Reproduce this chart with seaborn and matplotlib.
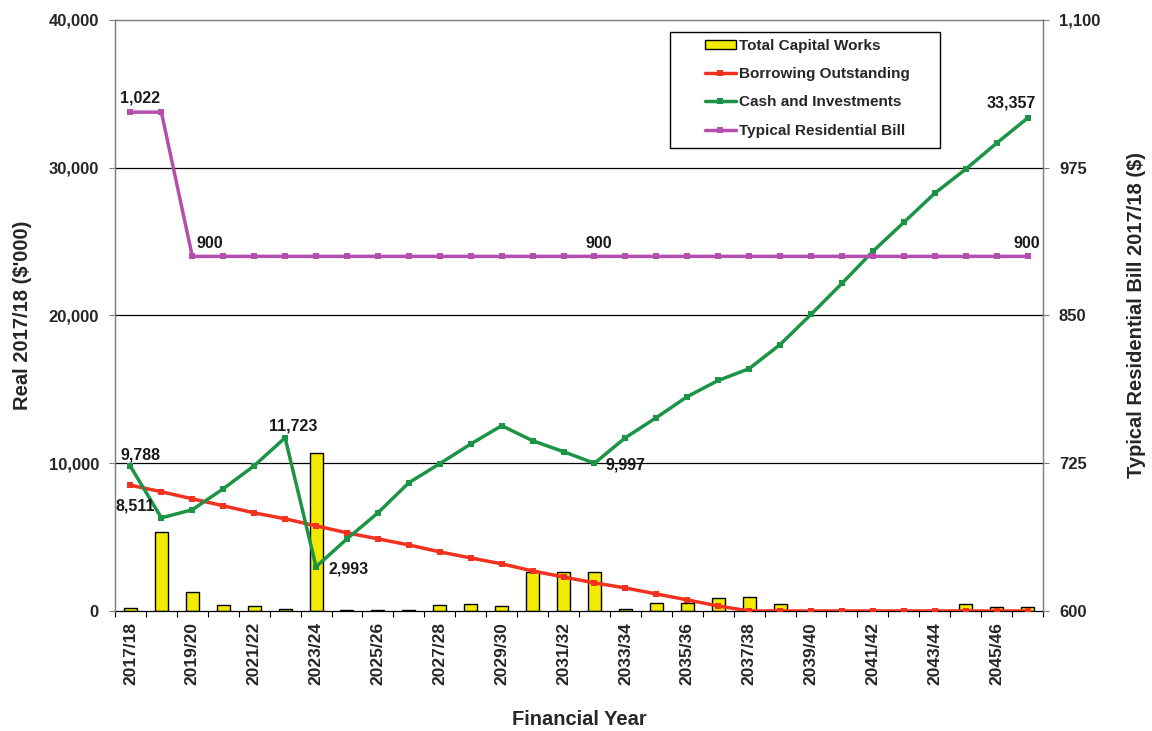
import numpy as np
import pandas as pd
import matplotlib
matplotlib.use("Agg")
import matplotlib.pyplot as plt
from matplotlib.patches import Rectangle
from matplotlib.ticker import FuncFormatter, FixedLocator
import seaborn as sns

years = [f"{y}/{str(y + 1)[-2:]}" for y in range(2017, 2047)]
capital_works = [200, 5360, 1290, 430, 340, 160, 10690, 70, 70, 60,
                 430, 500, 340, 2670, 2670, 2670, 160, 570, 570, 860,
                 950, 450, 0, 0, 0, 50, 50, 450, 290, 290]
borrowing = [8511, 8070, 7590, 7120, 6640, 6240, 5760, 5290, 4880, 4470,
             4000, 3590, 3190, 2710, 2300, 1900, 1560, 1150, 750, 340,
             0, 0, 0, 0, 0, 0, 0, 0, 0, 0]
cash = [9788, 6305, 6850, 8270, 9830, 11723, 2993, 4880, 6640, 8680,
        9970, 11300, 12540, 11525, 10780, 9997, 11730, 13085, 14510, 15600,
        16400, 18030, 20070, 22170, 24340, 26300, 28270, 29900, 31660, 33357]
bill = [1022, 1022] + [900] * 28

df = pd.DataFrame({"year": years, "pos": np.arange(len(years)),
                   "capital": capital_works, "borrowing": borrowing,
                   "cash": cash, "bill": bill})

sns.set_theme(style="white")
plt.rcParams["font.family"] = ["Liberation Sans", "DejaVu Sans"]
plt.rcParams["font.weight"] = "bold"

fig = plt.figure(figsize=(11.52, 7.31), dpi=100)
ax = fig.add_axes([0.0998, 0.1642, 0.8056, 0.8085])

YELLOW = "#F2EA00"
RED = "#F0321E"
GREEN = "#1C9446"
PURPLE = "#B44FAE"
GRAY = "#808080"

line_kw = dict(lw=2.5, marker="s", markersize=4.5, markeredgewidth=0)

sns.barplot(data=df, x="pos", y="capital", native_scale=True, ax=ax,
            color=YELLOW, edgecolor="black", linewidth=1.0, width=0.42,
            saturation=1, label="Total Capital Works", zorder=2)
sns.lineplot(data=df, x="pos", y="borrowing", ax=ax, color=RED,
             label="Borrowing Outstanding", zorder=3, **line_kw)
sns.lineplot(data=df, x="pos", y="cash", ax=ax, color=GREEN,
             label="Cash and Investments", zorder=3, **line_kw)

ax2 = ax.twinx()
sns.lineplot(data=df, x="pos", y="bill", ax=ax2, color=PURPLE,
             label="Typical Residential Bill", **line_kw)

n = len(years)
ax.set_xlim(-0.5, n - 0.5)
ax.set_ylim(0, 40000)
ax2.set_ylim(600, 1100)
ax.set_yticks(np.arange(0, 40001, 10000))
ax2.set_yticks(np.arange(600, 1101, 125))
ax.yaxis.set_major_formatter(FuncFormatter(lambda v, p: f"{int(v):,}"))
ax2.yaxis.set_major_formatter(FuncFormatter(lambda v, p: f"{int(v):,}"))

ax.set_xticks(np.arange(0, n, 2))
ax.set_xticklabels(years[::2], rotation=90, fontsize=12.5, fontweight="bold")
ax.xaxis.set_minor_locator(FixedLocator(np.arange(-0.5, n, 1)))
ax.tick_params(axis="x", which="major", length=0, pad=8)
ax.tick_params(axis="x", which="minor", length=4.5, width=0.8, color="black",
               direction="out", bottom=True)
ax.tick_params(axis="y", labelsize=12, length=4.5, width=0.8, color=GRAY,
               direction="out", left=True, pad=7)
ax2.tick_params(axis="y", labelsize=12, length=4.5, width=0.8, color=GRAY,
                direction="out", right=True, pad=7)
for lab in ax.get_yticklabels() + ax2.get_yticklabels():
    lab.set_fontweight("bold")

ax.grid(False)
ax2.grid(False)
for v in (10000, 20000, 30000):
    ax.axhline(v, color="black", lw=0.9, zorder=0.5)

for a in (ax, ax2):
    for sp in a.spines.values():
        sp.set_color(GRAY)
        sp.set_linewidth(0.9)
ax.spines["bottom"].set_color("black")
ax2.spines["bottom"].set_visible(False)

ax.set_xlabel("Financial Year", fontsize=14.5, fontweight="bold", labelpad=18)
ax.set_ylabel("Real 2017/18 ($'000)", fontsize=14.5, fontweight="bold", labelpad=12)
ax2.set_ylabel("Typical Residential Bill 2017/18 ($)", fontsize=14.5,
               fontweight="bold", labelpad=19)

# Value annotations
lab_kw = dict(fontsize=11.5, fontweight="bold", color="#1a1a1a")
ax.text(-0.33, cash[0] + 250, f"{cash[0]:,}", ha="left", va="bottom", **lab_kw)
ax.text(-0.48, 7120, f"{borrowing[0]:,}", ha="left", va="center", **lab_kw)
ax.text(5.25, 12540, f"{cash[5]:,}", ha="center", va="center", **lab_kw)
ax.text(6.39, 2850, f"{cash[6]:,}", ha="left", va="center", **lab_kw)
ax.text(15.37, 9900, f"{cash[15]:,}", ha="left", va="center", **lab_kw)
ax.text(29.26, 34400, f"{cash[29]:,}", ha="right", va="center", **lab_kw)
ax2.text(-0.33, 1034, f"{bill[0]:,}", ha="left", va="center", **lab_kw)
ax2.text(2.15, 911, f"{bill[2]:,}", ha="left", va="center", **lab_kw)
ax2.text(15.13, 911, f"{bill[15]:,}", ha="center", va="center", **lab_kw)
ax2.text(29.4, 911, f"{bill[29]:,}", ha="right", va="center", **lab_kw)

# Legend: bars first, then the three lines, inside a plain box
h1, l1 = ax.get_legend_handles_labels()
h2, l2 = ax2.get_legend_handles_labels()
for a in (ax, ax2):
    if a.get_legend():
        a.get_legend().remove()
handles = h1 + h2
labels = l1 + l2
order = [labels.index("Total Capital Works"), labels.index("Borrowing Outstanding"),
         labels.index("Cash and Investments"), labels.index("Typical Residential Bill")]
leg = fig.legend([handles[i] for i in order], [labels[i] for i in order],
                 loc="upper left", bbox_to_anchor=(705 / 1152, 1 - 39 / 731),
                 frameon=False, fontsize=11, handlelength=2.0,
                 handletextpad=0.2, labelspacing=0.93, borderpad=0,
                 handleheight=0.55, borderaxespad=0)
for t in leg.get_texts():
    t.set_fontweight("bold")
fig.add_artist(Rectangle((670 / 1152, 1 - 148 / 731), 270 / 1152, 116 / 731,
                         transform=fig.transFigure, facecolor="none",
                         edgecolor="black", lw=1.0, zorder=5))

fig.savefig("out.png", dpi=100)
